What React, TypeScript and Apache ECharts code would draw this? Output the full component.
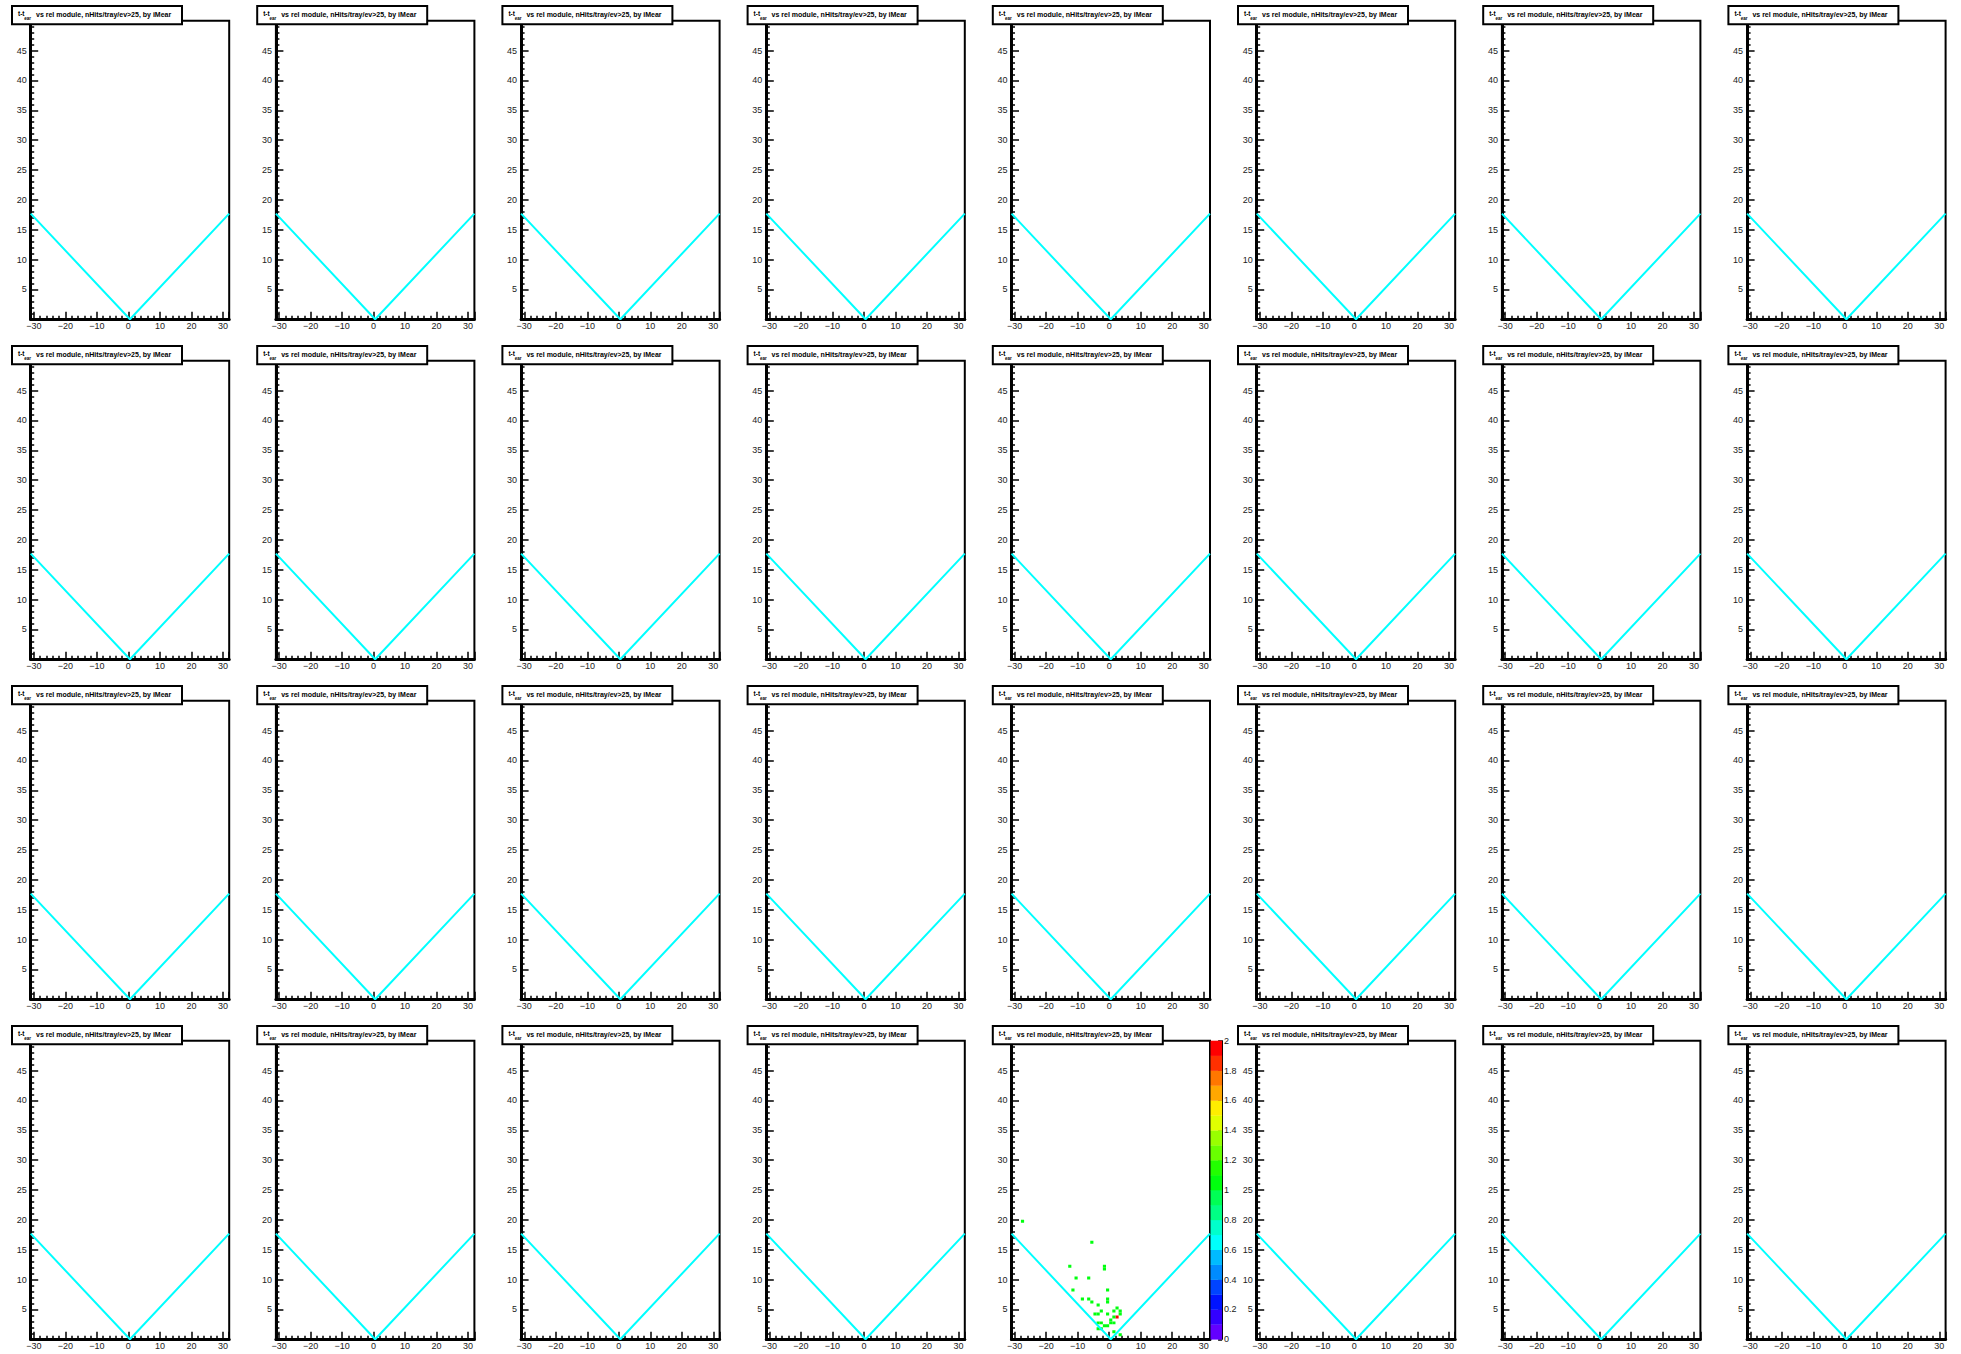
import React, { useEffect, useRef } from "react";
import * as echarts from "echarts";

// ---- page / layout ----
const PAGE_W = 1961;
const PAGE_H = 1354;
const NCOLS = 8;
const NROWS = 4;
const COL_PITCH = 245.2;
const ROW_PITCH = 340;
const FRAME_LEFT = 30.7;
const FRAME_TOP = 20.7;
const FRAME_W = 198.5;
const FRAME_H = 298.6;
const FONT = '"Liberation Sans", Arial, Helvetica, sans-serif';

// ---- axes ----
const X_MIN = -31;
const X_MAX = 32;
const Y_MIN = 0;
const Y_MAX = 50;
const Y_INTERVAL = 5;
const X_BIN = 1;
const Y_BIN = 0.5;

// ---- title ----
const TITLE_T = "t-t";
const TITLE_SUB = "ear";
const TITLE_MAIN = "vs rel module, nHits/tray/ev>25, by iMear";

// ---- V-shaped reference line (cyan) ----
const vLineX = [-31, 0.5, 32];
const vLineY = [17.7, 0, 17.7];

// ---- filled 2D histogram cells (only in one panel) ----
const DATA_COL = 4;
const DATA_ROW = 3;
const cellX = [-27.5, -5.5, -12.5, -1.5, -1.5, -10.5, -6.5, -11.5, -0.5, -8.5, -6.5, -5.5, -0.5, -0.5, -3.5, 2.5, 3.5, 3.5, 1.5, -2.5, -4.5, -3.5, -0.5, 2.5, 1.5, -3.5, -2.5, 0.5, 0.5, 1.5, -1.5, -0.5, -3.5, -2.5, 1.5, 3.5];
const cellY = [19.75, 16.25, 12.25, 12.25, 11.75, 10.25, 10.25, 8.25, 8.25, 6.75, 6.75, 6.25, 6.75, 6.25, 5.75, 5.25, 4.75, 4.25, 4.75, 4.75, 4.25, 4.25, 4.25, 3.75, 3.75, 2.75, 2.75, 3.25, 2.75, 2.75, 2.25, 2.25, 1.75, 1.75, 1.25, 0.75];
const cellZ = [1, 1, 1, 1, 1, 1, 1, 1, 1, 1, 1, 1, 1, 1, 1, 1, 1, 1, 1, 1, 1, 1, 1, 2, 1, 1, 1, 1, 1, 1, 1, 1, 1, 1, 1, 1];

// ---- colour scale (20 contour levels, violet -> red) ----
const Z_MIN = 0;
const Z_MAX = 2;
const Z_INTERVAL = 0.2;
const paletteColors = [
  "#6300ff", "#3300ff", "#0014ff", "#0044ff", "#008bff",
  "#00bbff", "#00fffc", "#00ffcc", "#00ff85", "#00ff55",
  "#00ff0e", "#22ff00", "#69ff00", "#99ff00", "#e0ff00",
  "#ffee00", "#ffa700", "#ff7700", "#ff3000", "#ff0000",
];
const zBandEdges = [0, 0.1, 0.2, 0.3, 0.4, 0.5, 0.6, 0.7, 0.8, 0.9, 1.0, 1.1, 1.2, 1.3, 1.4, 1.5, 1.6, 1.7, 1.8, 1.9, 2.0];

function colorFor(z: number): string {
  let j = 0;
  for (let k = 0; k < zBandEdges.length - 1; k++) {
    if (z >= zBandEdges[k] - 1e-9) j = k;
  }
  return paletteColors[Math.min(j, paletteColors.length - 1)];
}

export default function App() {
  const ref = useRef<HTMLDivElement>(null);

  useEffect(() => {
    if (!ref.current) return;
    const chart = echarts.init(ref.current, null, { renderer: "svg" });

    const grids: any[] = [];
    const xAxes: any[] = [];
    const yAxes: any[] = [];
    const series: any[] = [];
    const graphics: any[] = [];

    const vData = vLineX.map((x, i) => [x, vLineY[i]]);
    const cellData = cellX.map((x, i) => [x, cellY[i], cellZ[i]]);

    let gi = 0;
    for (let r = 0; r < NROWS; r++) {
      for (let c = 0; c < NCOLS; c++) {
        const ox = c * COL_PITCH;
        const oy = r * ROW_PITCH;
        grids.push({
          left: ox + FRAME_LEFT,
          top: oy + FRAME_TOP,
          width: FRAME_W,
          height: FRAME_H,
          show: true,
          borderColor: "#000",
          borderWidth: 2,
          backgroundColor: "#fff",
        });
        xAxes.push({
          gridIndex: gi,
          type: "value",
          min: X_MIN,
          max: X_MAX,
          splitNumber: 5,
          axisLine: { onZero: false, lineStyle: { color: "#000", width: 3 } },
          axisTick: { inside: true, length: 7.5, lineStyle: { color: "#000", width: 1.5 } },
          minorTick: { show: true, splitNumber: 5, length: 3.5, lineStyle: { color: "#000", width: 1.5 } },
          splitLine: { show: false },
          minorSplitLine: { show: false },
          axisLabel: {
            showMinLabel: false,
            showMaxLabel: false,
            margin: 2,
            fontSize: 9,
            fontFamily: FONT,
            color: "#222",
            formatter: (v: number) => (v < 0 ? "\u2212" + Math.abs(v) : String(v)),
          },
        });
        yAxes.push({
          gridIndex: gi,
          type: "value",
          min: Y_MIN,
          max: Y_MAX,
          interval: Y_INTERVAL,
          axisLine: { onZero: false, lineStyle: { color: "#000", width: 3 } },
          axisTick: { inside: true, length: 7.5, lineStyle: { color: "#000", width: 1.5 } },
          minorTick: { show: true, splitNumber: 5, length: 3.5, lineStyle: { color: "#000", width: 1.5 } },
          splitLine: { show: false },
          minorSplitLine: { show: false },
          axisLabel: {
            showMinLabel: false,
            showMaxLabel: false,
            margin: 4,
            fontSize: 9,
            fontFamily: FONT,
            color: "#222",
          },
        });
        if (c === DATA_COL && r === DATA_ROW) {
          series.push({
            type: "custom",
            xAxisIndex: gi,
            yAxisIndex: gi,
            z: 3,
            clip: true,
            data: cellData,
            renderItem: (params: any, api: any) => {
              const x = api.value(0);
              const y = api.value(1);
              const z = api.value(2);
              const p0 = api.coord([x - X_BIN / 2, y + Y_BIN / 2]);
              const p1 = api.coord([x + X_BIN / 2, y - Y_BIN / 2]);
              return {
                type: "rect",
                shape: { x: p0[0], y: p0[1], width: p1[0] - p0[0], height: p1[1] - p0[1] },
                style: { fill: colorFor(z) },
              };
            },
          });
        }
        series.push({
          type: "line",
          xAxisIndex: gi,
          yAxisIndex: gi,
          z: 5,
          data: vData,
          symbol: "none",
          lineStyle: { color: "#00ffff", width: 2 },
          silent: true,
        });

        // title box
        graphics.push({
          type: "rect",
          z: 100,
          shape: { x: ox + 12, y: oy + 6, width: 170, height: 18.3 },
          style: { fill: "#fff", stroke: "#000", lineWidth: 2 },
        });
        graphics.push({
          type: "text",
          z: 101,
          x: ox + 18,
          y: oy + 13.4,
          style: { text: TITLE_T, fontSize: 6.5, fontWeight: "bold", fontFamily: FONT, fill: "#000", verticalAlign: "middle", align: "left" },
        });
        graphics.push({
          type: "text",
          z: 101,
          x: ox + 24.3,
          y: oy + 18.3,
          style: { text: TITLE_SUB, fontSize: 4.5, fontWeight: "bold", fontFamily: FONT, fill: "#000", verticalAlign: "middle", align: "left" },
        });
        graphics.push({
          type: "text",
          z: 101,
          x: ox + 36,
          y: oy + 14,
          style: { text: TITLE_MAIN, fontSize: 7, fontWeight: "bold", fontFamily: FONT, fill: "#000", verticalAlign: "middle", align: "left" },
        });
        gi++;
      }
    }

    // colour bar
    const cbLeft = DATA_COL * COL_PITCH + FRAME_LEFT + FRAME_W + 0.5;
    const cbTop = DATA_ROW * ROW_PITCH + FRAME_TOP;
    grids.push({
      left: cbLeft,
      top: cbTop,
      width: 11.6,
      height: FRAME_H,
      show: false,
    });
    xAxes.push({ gridIndex: gi, type: "value", min: 0, max: 1, show: false });
    yAxes.push({
      gridIndex: gi,
      type: "value",
      position: "right",
      min: Z_MIN,
      max: Z_MAX,
      interval: Z_INTERVAL,
      axisLine: { show: true, onZero: false, lineStyle: { color: "#000", width: 1 } },
      axisTick: { show: true, inside: true, length: 4, lineStyle: { color: "#000", width: 1.5 } },
      splitLine: { show: false },
      axisLabel: { margin: 2, fontSize: 9, fontFamily: FONT, color: "#222", showMinLabel: true, showMaxLabel: true },
    });
    const bandData = paletteColors.map((col, j) => [zBandEdges[j], zBandEdges[j + 1], j]);
    series.push({
      type: "custom",
      xAxisIndex: gi,
      yAxisIndex: gi,
      z: 2,
      data: bandData,
      renderItem: (params: any, api: any) => {
        const lo = api.value(0);
        const hi = api.value(1);
        const j = api.value(2);
        const p0 = api.coord([0, hi]);
        const p1 = api.coord([1, lo]);
        return {
          type: "rect",
          shape: { x: p0[0], y: p0[1], width: p1[0] - p0[0], height: p1[1] - p0[1] + 0.3 },
          style: { fill: paletteColors[j] },
        };
      },
    });

    chart.setOption({
      animation: false,
      backgroundColor: "#fff",
      grid: grids,
      xAxis: xAxes,
      yAxis: yAxes,
      series,
      graphic: graphics,
    });

    return () => {
      chart.dispose();
    };
  }, []);

  return (
    <div
      ref={ref}
      style={{ position: "absolute", left: 0, top: 0, width: PAGE_W, height: PAGE_H, background: "#fff" }}
    />
  );
}
